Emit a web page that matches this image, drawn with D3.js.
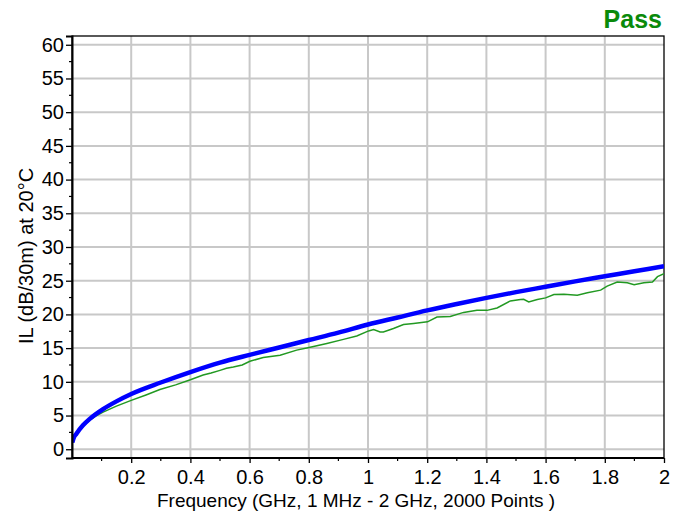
<!DOCTYPE html>
<html><head><meta charset="utf-8">
<script src="https://cdn.jsdelivr.net/npm/d3@7"></script>
<style>body{margin:0;background:#fff}svg{display:block;font-family:Arial,"Liberation Sans",sans-serif}</style>
</head><body><svg id="c" width="683" height="513"></svg>
<script>
// Data
const xTicks = [0.2,0.4,0.6,0.8,1,1.2,1.4,1.6,1.8,2];
const xTickLabels = ["0.2","0.4","0.6","0.8","1","1.2","1.4","1.6","1.8","2"];
const yTicks = [0,5,10,15,20,25,30,35,40,45,50,55,60];
const limitFreq = [0.001,0.005,0.015,0.037,0.06,0.105,0.15,0.2,0.3,0.4,0.5,0.6,0.7,0.8,0.9,1.0,1.1,1.2,1.3,1.4,1.5,1.6,1.7,1.8,1.9,2.0];
const limitIL   = [1.0,1.6,2.3,3.55,4.5,5.95,7.1,8.2,9.9,11.45,12.85,14.0,15.1,16.2,17.3,18.5,19.55,20.6,21.55,22.45,23.3,24.1,24.9,25.65,26.4,27.15];
const measFreq = [0.001,0.01,0.02,0.04,0.06,0.08,0.105,0.15,0.2,0.25,0.297,0.35,0.4,0.443,0.47,0.5,0.522,0.545,0.575,0.601,0.646,0.703,0.759,0.801,0.861,0.917,0.962,1.002,1.019,1.041,1.052,1.086,1.12,1.154,1.201,1.233,1.278,1.323,1.368,1.402,1.436,1.481,1.515,1.526,1.543,1.572,1.6,1.628,1.662,1.707,1.741,1.786,1.808,1.842,1.876,1.899,1.932,1.961,1.978,2.0];
const measIL   = [0.9,1.9,2.6,3.5,4.3,4.9,5.5,6.4,7.25,8.05,8.85,9.55,10.3,11.0,11.3,11.7,12.0,12.2,12.5,13.05,13.6,13.95,14.7,15.1,15.7,16.3,16.8,17.55,17.75,17.4,17.4,17.9,18.5,18.65,18.9,19.6,19.7,20.3,20.6,20.6,20.95,22.0,22.2,22.25,21.85,22.2,22.45,22.95,23.0,22.85,23.2,23.6,24.2,24.8,24.7,24.4,24.7,24.8,25.6,26.05];

const svg = d3.select("#c");
const L = 72, R = 664, T = 36, B = 458;
const x = d3.scaleLinear().domain([0,2]).range([L,R]);
const y = d3.scaleLinear().domain([-1.3,61.3]).range([B,T]);

// grid
const g = svg.append("g");
g.selectAll(".gx").data(xTicks.slice(0,-1)).join("line")
  .attr("x1",d=>x(d)).attr("x2",d=>x(d)).attr("y1",T).attr("y2",B)
  .attr("stroke","#c8c8c8").attr("stroke-width",2);
g.selectAll(".gy").data(yTicks).join("line")
  .attr("x1",L).attr("x2",R).attr("y1",d=>y(d)).attr("y2",d=>y(d))
  .attr("stroke","#c8c8c8").attr("stroke-width",2);

// frame
svg.append("rect").attr("x",L).attr("y",T).attr("width",R-L).attr("height",B-T)
  .attr("fill","none").attr("stroke","#000").attr("stroke-width",1.3);

// lines
const clip = svg.append("clipPath").attr("id","clp").append("rect")
  .attr("x",L).attr("y",T).attr("width",R-L).attr("height",B-T);
const line = d3.line().x(d=>x(d[0])).y(d=>y(d[1])).curve(d3.curveMonotoneX);
svg.append("path").datum(measFreq.map((f,i)=>[f,measIL[i]]))
  .attr("d",d3.line().x(d=>x(d[0])).y(d=>y(d[1])))
  .attr("fill","none").attr("stroke","#229922").attr("stroke-width",1.5).attr("clip-path","url(#clp)");
svg.append("path").datum(limitFreq.map((f,i)=>[f,limitIL[i]]))
  .attr("d",line).attr("fill","none").attr("stroke","#0000ff").attr("stroke-width",4.5).attr("clip-path","url(#clp)");

// axes
const yAxis = d3.axisLeft(y).tickValues(yTicks).tickSize(6).tickPadding(2);
const ya = svg.append("g").attr("transform",`translate(${L},0)`).call(yAxis);
ya.select(".domain").attr("stroke-width",2);
ya.selectAll(".tick line").attr("stroke-width",1.3);
ya.selectAll("text").attr("font-size",20).attr("fill","#000").attr("font-family","Arial, 'Liberation Sans', sans-serif");
const yMinor = d3.range(0,24).map(i=>2.5+5*i).filter(v=>v<61);
svg.append("g").selectAll("line").data(yMinor).join("line")
  .attr("x1",L-3).attr("x2",L).attr("y1",d=>y(d)).attr("y2",d=>y(d)).attr("stroke","#000").attr("stroke-width",1.2);

const xAxis = d3.axisBottom(x).tickValues(xTicks).tickFormat((d,i)=>xTickLabels[i]).tickSize(5).tickPadding(7);
const xa = svg.append("g").attr("transform",`translate(0,${B})`).call(xAxis);
xa.select(".domain").attr("stroke-width",2).attr("d",`M${L},0H${R}`);
xa.selectAll(".tick line").attr("stroke-width",1.3);
xa.selectAll("text").attr("font-size",20).attr("fill","#000").attr("font-family","Arial, 'Liberation Sans', sans-serif");
const xMinor = d3.range(1,20,2).map(i=>i/10);
svg.append("g").selectAll("line").data(xMinor).join("line")
  .attr("x1",d=>x(d)).attr("x2",d=>x(d)).attr("y1",B).attr("y2",B+3).attr("stroke","#000").attr("stroke-width",1.2);

// labels
svg.append("text").attr("x",(L+R)/2-12).attr("y",507).attr("text-anchor","middle")
  .attr("font-size",19).text("Frequency (GHz, 1 MHz - 2 GHz, 2000 Points )");
svg.append("text").attr("transform","translate(33,256) rotate(-90)").attr("text-anchor","middle")
  .attr("font-size",20).text("IL (dB/30m) at 20°C");
svg.append("text").attr("x",662).attr("y",28).attr("text-anchor","end")
  .attr("font-size",25).attr("font-weight","bold").attr("fill","#0a8a0a").text("Pass");
</script></body></html>
